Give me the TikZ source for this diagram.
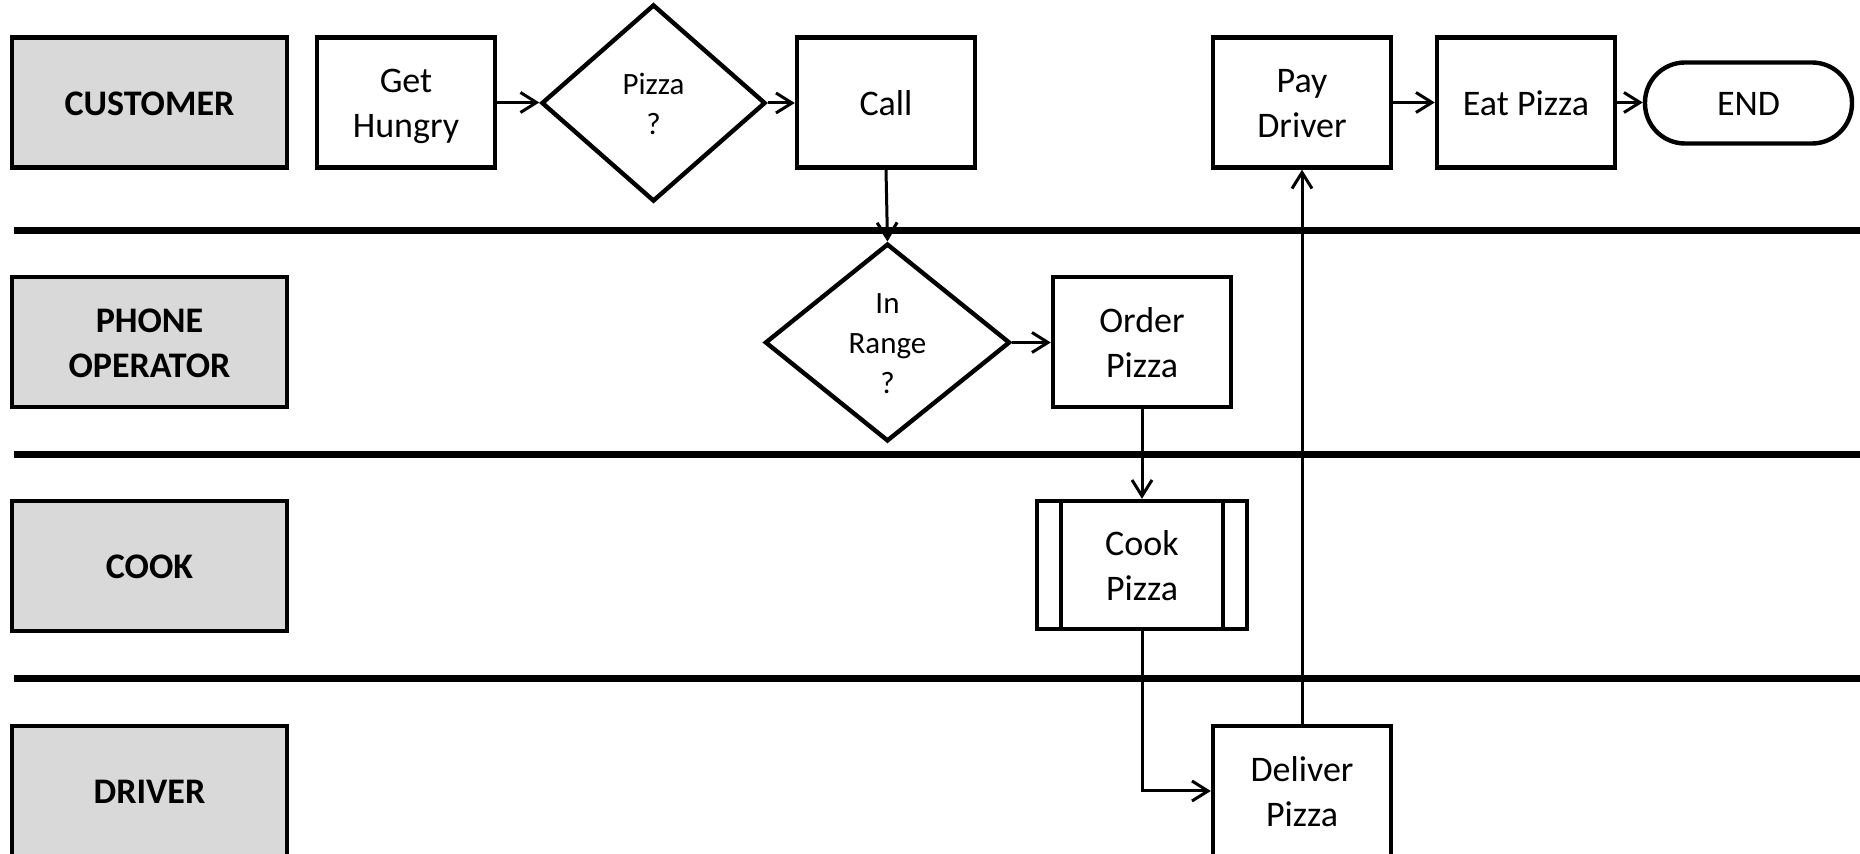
\documentclass[tikz,border=0pt]{standalone}
\usepackage{fontspec}
\setmainfont{Carlito}
\usetikzlibrary{shapes.geometric,arrows.meta}
\definecolor{lanegray}{HTML}{D9D9D9}
\newcommand\ls{\rule[-0.22\baselineskip]{0pt}{\baselineskip}}
\begin{document}
\begin{tikzpicture}[x=0.5pt,y=-0.5pt,
  lanebox/.style={draw,line width=2.2pt,fill=lanegray,minimum width=137.5pt,minimum height=65pt,inner sep=0pt,align=center,font=\fontsize{18}{22.5}\selectfont\bfseries},
  procbox/.style={draw,line width=2.2pt,fill=white,minimum width=89pt,minimum height=65pt,inner sep=0pt,align=center,font=\fontsize{18}{22.5}\selectfont},
  decision/.style={draw,diamond,line width=2.2pt,fill=white,inner sep=0pt,align=center,font=\fontsize{15.5}{20}\selectfont},
  terminal/.style={draw,line width=2.2pt,fill=white,rounded corners=20pt,minimum width=103.5pt,minimum height=40.5pt,inner sep=0pt,align=center,font=\fontsize{18}{22.5}\selectfont},
  lanesep/.style={line width=3.8pt},
  flow/.style={line width=1.5pt,-{Straight Barb[length=8pt,width=10pt]}}]
\useasboundingbox (0,0) rectangle (1860,854);
\clip (0,0) rectangle (1860,854);
% lane separators
\coordinate (s1l) at (14,230.5); \coordinate (s1r) at (1860,230.5);
\coordinate (s2l) at (14,454.5); \coordinate (s2r) at (1860,454.5);
\coordinate (s3l) at (14,678.5); \coordinate (s3r) at (1860,678.5);
\draw[lanesep] (s1l) -- (s1r);
\draw[lanesep] (s2l) -- (s2r);
\draw[lanesep] (s3l) -- (s3r);
% lane labels
\node[lanebox] (cust) at (149.5,102.5) {\ls CUSTOMER};
\node[lanebox] (phone) at (149.5,342) {\ls PHONE\\\ls OPERATOR};
\node[lanebox] (cookl) at (149.5,566) {\ls COOK};
\node[lanebox] (drv) at (149.5,791) {\ls DRIVER};
% process nodes
\node[procbox] (hungry) at (406,102.5) {\ls Get\\\ls Hungry};
\node[decision,minimum width=112pt,minimum height=98.5pt] (pizzaq) at (653.5,103) {\ls Pizza\\\ls ?};
\node[procbox] (call) at (886,102.5) {\ls Call};
\node[procbox] (pay) at (1302,102.5) {\ls Pay\\\ls Driver};
\node[procbox] (eat) at (1526,102.5) {\ls Eat Pizza};
\node[terminal] (endn) at (1748.5,103) {\ls END};
\node[decision,minimum width=122.5pt,minimum height=97.5pt] (range) at (887.5,342.5) {\ls In\\\ls Range\\\ls ?};
\node[procbox] (order) at (1142,342) {\ls Order\\\ls Pizza};
\node[procbox,minimum width=105pt,minimum height=64pt] (cook) at (1142,565) {\ls Cook\\\ls Pizza};
\draw[line width=2.2pt] ([xshift=13pt]cook.north west) -- ([xshift=13pt]cook.south west);
\draw[line width=2.2pt] ([xshift=-13pt]cook.north east) -- ([xshift=-13pt]cook.south east);
\node[procbox] (deliver) at (1302,791) {\ls Deliver\\\ls Pizza};
% connectors
\draw[flow] (hungry.east) -- (hungry.east -| pizzaq.west);
\draw[flow] (pizzaq.east) -- (pizzaq.east -| call.west);
\draw[flow] (call.south) -- (range.north);
\draw[flow] (range.east) -- (range.east -| order.west);
\draw[flow] (order.south) -- (cook.north);
\draw[flow] (cook.south) |- (deliver.west);
\draw[flow] (deliver.north) -- (pay.south);
\draw[flow] (pay.east) -- (eat.west);
\draw[flow] (eat.east) -- (eat.east -| endn.west);
\end{tikzpicture}
\end{document}
